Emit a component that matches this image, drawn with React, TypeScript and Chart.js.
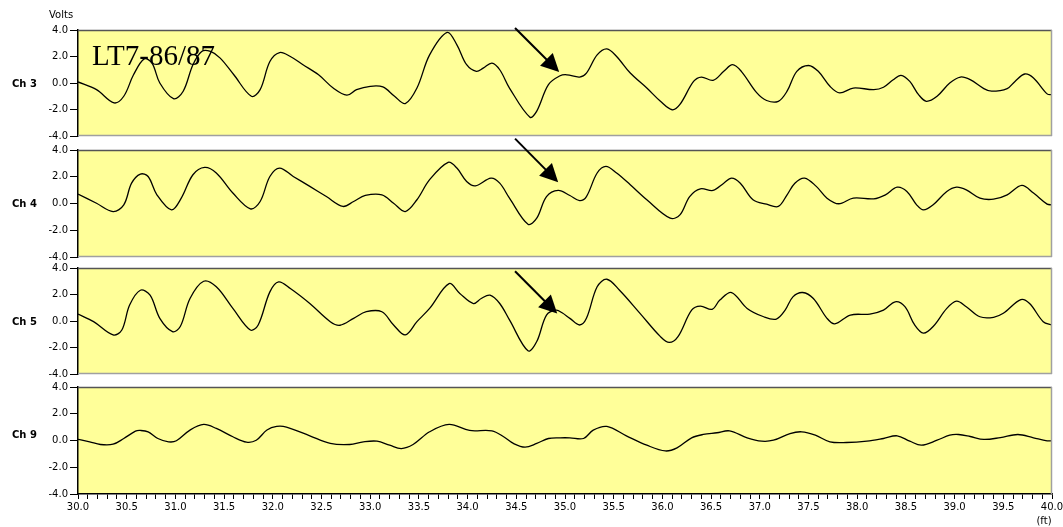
import React, { useEffect, useRef } from "react";
import { Chart, registerables } from "chart.js";

Chart.register(...registerables);

// ---------------- data ----------------
const channelNames = ["Ch 3", "Ch 4", "Ch 5", "Ch 9"];
const yTickValues = [-4, -2, 0, 2, 4];
const xMin = 30;
const xMax = 40;
const xStep = 0.1;
const xLabelStep = 0.5;
const yAxisTitle = "Volts";
const xAxisUnit = "(ft)";
const wellTitle = "LT7-86/87";

// [depth ft, volts]
const ch3: [number, number][] = [
  [30.0, 0.08], [30.19, -0.5], [30.37, -1.5], [30.47, -1.0], [30.57, 0.62], [30.68, 1.82],
  [30.76, 1.5], [30.84, 0], [30.98, -1.18], [31.08, -0.62], [31.18, 1.38], [31.27, 2.38],
  [31.36, 2.38], [31.46, 1.88], [31.6, 0.62], [31.78, -1.0], [31.87, -0.5], [31.97, 1.62],
  [32.07, 2.3], [32.18, 2.0], [32.31, 1.38], [32.47, 0.62], [32.62, -0.38], [32.76, -0.92],
  [32.86, -0.5], [33.0, -0.25], [33.13, -0.3], [33.25, -1.0], [33.36, -1.55], [33.48, -0.38],
  [33.61, 2.12], [33.79, 3.82], [33.89, 2.88], [33.99, 1.38], [34.09, 0.88], [34.16, 1.12],
  [34.25, 1.5], [34.33, 1.0], [34.43, -0.38], [34.64, -2.58], [34.71, -2.12], [34.83, -0.12],
  [34.95, 0.55], [35.02, 0.62], [35.15, 0.45], [35.22, 0.75], [35.33, 2.12], [35.43, 2.58],
  [35.53, 2.0], [35.67, 0.75], [35.84, -0.38], [35.98, -1.38], [36.1, -2.02], [36.18, -1.62],
  [36.32, 0.12], [36.4, 0.45], [36.52, 0.2], [36.63, 0.88], [36.72, 1.38], [36.81, 0.88],
  [36.97, -0.75], [37.07, -1.32], [37.19, -1.38], [37.28, -0.62], [37.38, 0.88], [37.5, 1.32],
  [37.6, 0.88], [37.72, -0.25], [37.82, -0.75], [37.96, -0.38], [38.17, -0.5], [38.27, -0.32],
  [38.37, 0.25], [38.45, 0.58], [38.54, 0.12], [38.63, -0.88], [38.71, -1.38], [38.82, -1.0],
  [38.95, 0.0], [39.06, 0.45], [39.16, 0.25], [39.3, -0.42], [39.38, -0.62], [39.54, -0.42],
  [39.62, 0.12], [39.72, 0.68], [39.81, 0.38], [39.95, -0.82], [40.0, -0.88],
];

const ch4: [number, number][] = [
  [30.0, 0.7], [30.19, 0.02], [30.36, -0.6], [30.47, -0.1], [30.55, 1.52], [30.64, 2.2],
  [30.72, 2.02], [30.81, 0.65], [30.96, -0.48], [31.06, 0.4], [31.18, 2.15], [31.3, 2.7],
  [31.42, 2.28], [31.59, 0.78], [31.77, -0.4], [31.87, 0.15], [31.97, 2.02], [32.07, 2.65],
  [32.21, 2.02], [32.38, 1.28], [32.55, 0.52], [32.72, -0.22], [32.83, 0.15], [32.95, 0.6],
  [33.12, 0.65], [33.24, 0.02], [33.36, -0.6], [33.48, 0.28], [33.61, 1.78], [33.8, 3.08],
  [33.89, 2.65], [33.99, 1.65], [34.08, 1.32], [34.24, 1.9], [34.33, 1.52], [34.43, 0.4],
  [34.62, -1.55], [34.71, -1.1], [34.81, 0.52], [34.93, 0.98], [35.05, 0.6], [35.15, 0.22],
  [35.22, 0.52], [35.33, 2.28], [35.42, 2.78], [35.53, 2.28], [35.67, 1.4], [35.84, 0.28],
  [36.08, -1.1], [36.18, -0.85], [36.28, 0.52], [36.39, 1.1], [36.52, 0.98], [36.63, 1.52],
  [36.71, 1.9], [36.8, 1.52], [36.93, 0.28], [37.07, -0.05], [37.19, -0.22], [37.28, 0.65],
  [37.36, 1.52], [37.46, 1.9], [37.58, 1.28], [37.69, 0.4], [37.81, -0.02], [37.96, 0.4],
  [38.17, 0.35], [38.29, 0.65], [38.41, 1.22], [38.51, 0.9], [38.61, -0.1], [38.68, -0.48],
  [38.78, -0.1], [38.92, 0.9], [39.02, 1.22], [39.12, 1.02], [39.26, 0.4], [39.4, 0.32],
  [39.54, 0.65], [39.69, 1.35], [39.81, 0.78], [39.95, -0.05], [40.0, -0.1],
];

const ch5: [number, number][] = [
  [30.0, 0.52], [30.16, -0.05], [30.36, -1.05], [30.45, -0.68], [30.53, 1.2], [30.64, 2.32],
  [30.74, 1.95], [30.84, 0.2], [30.97, -0.8], [31.05, -0.42], [31.15, 1.7], [31.29, 3.0],
  [31.42, 2.58], [31.59, 0.95], [31.77, -0.68], [31.85, -0.3], [31.97, 2.2], [32.06, 2.95],
  [32.18, 2.45], [32.38, 1.32], [32.59, -0.05], [32.69, -0.32], [32.83, 0.2], [32.96, 0.7],
  [33.12, 0.7], [33.24, -0.3], [33.36, -1.05], [33.48, -0.05], [33.61, 0.95], [33.81, 2.82],
  [33.92, 2.08], [34.06, 1.32], [34.14, 1.7], [34.23, 1.95], [34.33, 1.32], [34.43, 0.08],
  [34.62, -2.25], [34.71, -1.55], [34.81, 0.45], [34.91, 0.82], [34.97, 0.62], [35.05, 0.2],
  [35.15, -0.3], [35.22, 0.2], [35.33, 2.58], [35.43, 3.15], [35.56, 2.32], [35.77, 0.58],
  [35.98, -1.18], [36.07, -1.62], [36.16, -1.18], [36.3, 0.82], [36.39, 1.12], [36.51, 0.88],
  [36.59, 1.58], [36.71, 2.15], [36.87, 0.95], [37.04, 0.32], [37.17, 0.15], [37.26, 0.82],
  [37.34, 1.82], [37.44, 2.15], [37.55, 1.7], [37.69, 0.2], [37.77, -0.22], [37.93, 0.45],
  [38.13, 0.52], [38.27, 0.82], [38.39, 1.45], [38.49, 1.08], [38.59, -0.3], [38.68, -0.92],
  [38.78, -0.42], [38.92, 0.95], [39.02, 1.5], [39.12, 1.08], [39.26, 0.32], [39.4, 0.28],
  [39.5, 0.58], [39.68, 1.62], [39.77, 1.32], [39.91, -0.05], [40.0, -0.3],
];

const ch9: [number, number][] = [
  [30.0, 0.08], [30.12, -0.1], [30.23, -0.3], [30.36, -0.28], [30.47, 0.15], [30.59, 0.7],
  [30.64, 0.75], [30.72, 0.65], [30.82, 0.15], [30.93, -0.1], [31.01, -0.02], [31.15, 0.78],
  [31.29, 1.2], [31.42, 0.9], [31.59, 0.28], [31.73, -0.12], [31.83, 0.02], [31.94, 0.78],
  [32.04, 1.05], [32.14, 1.0], [32.38, 0.35], [32.59, -0.22], [32.79, -0.3], [32.93, -0.1],
  [33.07, -0.05], [33.2, -0.35], [33.32, -0.6], [33.44, -0.3], [33.61, 0.65], [33.81, 1.2],
  [34.02, 0.75], [34.25, 0.72], [34.37, 0.28], [34.47, -0.22], [34.59, -0.5], [34.71, -0.22],
  [34.83, 0.15], [34.95, 0.2], [35.05, 0.2], [35.19, 0.15], [35.29, 0.78], [35.43, 1.05],
  [35.63, 0.35], [35.84, -0.35], [36.03, -0.78], [36.15, -0.55], [36.3, 0.2], [36.42, 0.45],
  [36.56, 0.58], [36.69, 0.72], [36.87, 0.2], [37.02, -0.05], [37.14, 0.02], [37.31, 0.52],
  [37.43, 0.65], [37.57, 0.4], [37.72, -0.1], [37.89, -0.15], [38.1, -0.05], [38.27, 0.15],
  [38.41, 0.35], [38.54, -0.05], [38.66, -0.35], [38.82, 0.02], [38.95, 0.4], [39.04, 0.45],
  [39.16, 0.3], [39.3, 0.08], [39.47, 0.22], [39.65, 0.45], [39.81, 0.2], [39.95, -0.02],
  [40.0, -0.02],
];

const series = [ch3, ch4, ch5, ch9];

// annotation arrows, in data coordinates: [depth, volts] tail -> head
const arrows: ([number, number][] | null)[] = [
  [[34.487, 4.15], [34.94, 0.83]],
  [[34.487, 4.85], [34.93, 1.59]],
  [[34.487, 3.75], [34.92, 0.56]],
  null,
];
// where the channel label sits (in volts)
const channelLabelAt = [0, 0, 0, 0.45];

// ---------------- layout / style ----------------
const W = 1063;
const H = 527;
const PLOT_LEFT = 78;
const PLOT_RIGHT = 1052;
const panelTop = [30, 150, 268, 387];
const panelBottom = [136, 257, 374, 494];
const XAXIS_H = 30;
const FONT = "'DejaVu Sans', Verdana, sans-serif";
const PANEL_BG = "#FFFF99";

const isMajor = (v: number) => Math.abs(v / xLabelStep - Math.round(v / xLabelStep)) < 1e-6;

function makeDecor(i: number) {
  return {
    id: "decor" + i,
    beforeDraw(chart: any) {
      const { ctx, chartArea: a } = chart;
      ctx.save();
      ctx.fillStyle = PANEL_BG;
      ctx.fillRect(a.left, a.top, a.right - a.left, a.bottom - a.top);
      ctx.restore();
    },
    afterDraw(chart: any) {
      const { ctx, chartArea: a } = chart;
      const xs = chart.scales.x;
      const ys = chart.scales.y;
      ctx.save();
      // frame: top and right (and bottom for upper panels)
      ctx.lineWidth = 1.5;
      ctx.strokeStyle = "#555555";
      ctx.beginPath();
      ctx.moveTo(a.left, a.top + 0.5);
      ctx.lineTo(a.right, a.top + 0.5);
      ctx.stroke();
      ctx.lineWidth = 1.5;
      ctx.strokeStyle = "#a0a0a0";
      ctx.beginPath();
      ctx.moveTo(a.right - 0.5, a.top);
      ctx.lineTo(a.right - 0.5, a.bottom);
      if (i < 3) {
        ctx.moveTo(a.left, a.bottom - 0.5);
        ctx.lineTo(a.right, a.bottom - 0.5);
      }
      ctx.stroke();

      // channel label
      ctx.fillStyle = "#000";
      ctx.font = `bold 10px ${FONT}`;
      ctx.textAlign = "left";
      ctx.textBaseline = "middle";
      ctx.fillText(channelNames[i], 12, ys.getPixelForValue(channelLabelAt[i]) + 1);

      if (i === 0) {
        ctx.font = `10px ${FONT}`;
        ctx.fillText(yAxisTitle, 49, a.top - 15);
        ctx.font = `29px 'Liberation Serif', 'Times New Roman', serif`;
        ctx.textBaseline = "alphabetic";
        ctx.fillText(wellTitle, a.left + 14, a.top + 35);
      }
      if (i === 3) {
        ctx.font = `10px ${FONT}`;
        ctx.textAlign = "center";
        ctx.textBaseline = "middle";
        ctx.fillText(xAxisUnit, a.right - 8, a.bottom + 27);
      }

      const arr = arrows[i];
      if (arr) {
        const x1 = xs.getPixelForValue(arr[0][0]);
        const y1 = ys.getPixelForValue(arr[0][1]);
        const x2 = xs.getPixelForValue(arr[1][0]);
        const y2 = ys.getPixelForValue(arr[1][1]);
        const ang = Math.atan2(y2 - y1, x2 - x1);
        const hl = 18;
        const hw = 9;
        const bx = x2 - hl * Math.cos(ang);
        const by = y2 - hl * Math.sin(ang);
        ctx.strokeStyle = "#000";
        ctx.lineWidth = 2;
        ctx.beginPath();
        ctx.moveTo(x1, y1);
        ctx.lineTo(bx + 2 * Math.cos(ang), by + 2 * Math.sin(ang));
        ctx.stroke();
        ctx.fillStyle = "#000";
        ctx.beginPath();
        ctx.moveTo(x2, y2);
        ctx.lineTo(bx + hw * Math.sin(ang), by - hw * Math.cos(ang));
        ctx.lineTo(bx - hw * Math.sin(ang), by + hw * Math.cos(ang));
        ctx.closePath();
        ctx.fill();
      }
      ctx.restore();
    },
  };
}

function makeConfig(i: number): any {
  const isLast = i === 3;
  return {
    type: "scatter",
    data: {
      datasets: [
        {
          data: series[i].map(([x, y]) => ({ x, y })),
          showLine: true,
          borderColor: "#000",
          borderWidth: 1.3,
          pointRadius: 0,
          fill: false,
          tension: 0.35,
        },
      ],
    },
    options: {
      responsive: false,
      animation: false,
      events: [],
      layout: {
        padding: {
          left: 0,
          right: W - PLOT_RIGHT,
          top: panelTop[i],
          bottom: isLast ? H - panelBottom[i] - XAXIS_H : H - panelBottom[i],
        },
      },
      plugins: {
        legend: { display: false },
        tooltip: { enabled: false },
        title: { display: false },
      },
      scales: {
        x: {
          type: "linear",
          min: xMin,
          max: xMax,
          display: isLast,
          afterFit: (s: any) => {
            s.height = isLast ? XAXIS_H : 0;
            s.paddingLeft = 0;
            s.paddingRight = 0;
          },
          ticks: {
            stepSize: xStep,
            autoSkip: false,
            maxRotation: 0,
            minRotation: 0,
            padding: 2,
            color: "#000",
            font: { family: FONT, size: 10 },
            callback: (v: number) => (isMajor(v) ? v.toFixed(1) : ""),
          },
          grid: {
            drawOnChartArea: false,
            drawTicks: true,
            tickLength: 5,
            color: "#000",
            lineWidth: 1,
          },
          border: { display: true, color: "#000", width: 1.5 },
        },
        y: {
          type: "linear",
          min: -4,
          max: 4,
          afterFit: (s: any) => {
            s.width = PLOT_LEFT;
          },
          afterBuildTicks: (s: any) => {
            s.ticks = yTickValues.map((v) => ({ value: v }));
          },
          ticks: {
            color: "#000",
            padding: 2,
            font: { family: FONT, size: 10 },
            callback: (v: number) => v.toFixed(1),
          },
          grid: {
            drawOnChartArea: false,
            drawTicks: true,
            tickLength: 8,
            color: "#000",
            lineWidth: 1,
          },
          border: { display: true, color: "#000", width: 1.5 },
        },
      },
    },
    plugins: [makeDecor(i)],
  };
}

export default function App() {
  const r0 = useRef<HTMLCanvasElement>(null);
  const r1 = useRef<HTMLCanvasElement>(null);
  const r2 = useRef<HTMLCanvasElement>(null);
  const r3 = useRef<HTMLCanvasElement>(null);
  const refs = [r0, r1, r2, r3];

  useEffect(() => {
    const charts = refs.map((r, i) => new Chart(r.current as HTMLCanvasElement, makeConfig(i)));
    return () => charts.forEach((c) => c.destroy());
  }, []);

  return (
    <div style={{ position: "absolute", left: 0, top: 0, width: W, height: H, background: "#fff" }}>
      {refs.map((r, i) => (
        <canvas
          key={i}
          ref={r}
          width={W}
          height={H}
          style={{ position: "absolute", left: 0, top: 0, width: W, height: H }}
        />
      ))}
    </div>
  );
}
